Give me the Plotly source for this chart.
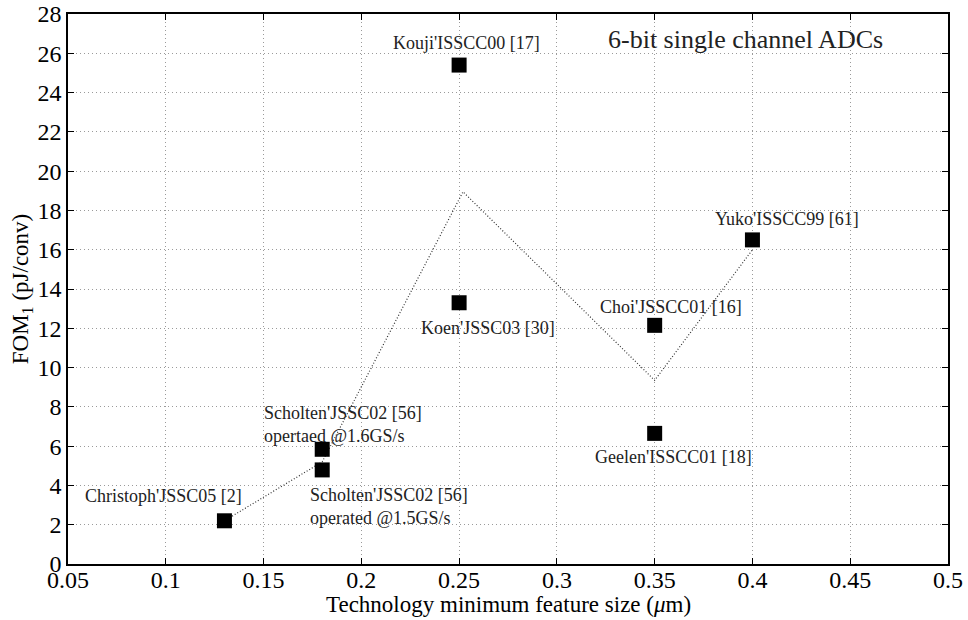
import plotly.graph_objects as go

# Data points (technology um, FOM pJ/conv)
labels = ["Christoph'JSSC05 [2]",
          "Scholten'JSSC02 [56]<br>opertaed @1.6GS/s",
          "Scholten'JSSC02 [56]<br>operated @1.5GS/s",
          "Kouji'ISSCC00 [17]",
          "Koen'JSSC03 [30]",
          "Choi'JSSCC01 [16]",
          "Geelen'ISSCC01 [18]",
          "Yuko'ISSCC99 [61]"]
tech = [0.13, 0.18, 0.18, 0.25, 0.25, 0.35, 0.35, 0.40]
fom = [2.2, 5.84, 4.79, 25.4, 13.3, 12.15, 6.65, 16.5]

# Dotted trend line
trend_x = [0.13, 0.18, 0.252, 0.35, 0.40]
trend_y = [2.2, 5.2, 18.95, 9.35, 16.0]

x_ticks = [0.05, 0.1, 0.15, 0.2, 0.25, 0.3, 0.35, 0.4, 0.45, 0.5]
x_ticktext = ["0.05", "0.1", "0.15", "0.2", "0.25", "0.3", "0.35", "0.4", "0.45", "0.5"]
y_ticks = list(range(0, 29, 2))

FONT = "Liberation Serif, DejaVu Serif, serif"

fig = go.Figure()
fig.add_trace(go.Scatter(x=trend_x, y=trend_y, mode="lines",
                         line=dict(color="#333333", width=1.2, dash="1px,2px"),
                         hoverinfo="skip", showlegend=False))
fig.add_trace(go.Scatter(x=tech, y=fom, mode="markers",
                         marker=dict(symbol="square", size=15, color="black",
                                     line=dict(width=0)),
                         showlegend=False))

# label offsets (pixels): xshift, yshift, xanchor
offsets = [(-61, 25, "center"),
           (-60, 25, "left"),
           (-14, -37, "left"),
           (7, 22, "center"),
           (29, -25, "center"),
           (16, 18, "center"),
           (19, -24, "center"),
           (35, 21, "center")]
for lab, xv, yv, (dx, dy, xa) in zip(labels, tech, fom, offsets):
    fig.add_annotation(x=xv, y=yv, xref="x", yref="y", text=lab,
                       showarrow=False, xshift=dx, yshift=dy,
                       xanchor=xa, yanchor="middle", align="left",
                       font=dict(family=FONT, size=18, color="#222222"))

fig.add_annotation(x=0.770, y=0.953, xref="paper", yref="paper",
                   text="6-bit single channel ADCs", showarrow=False,
                   xanchor="center", yanchor="middle",
                   font=dict(family=FONT, size=26, color="#222222"))

# x-axis title placed as text below the tick labels
fig.add_annotation(x=0.5, y=-0.1, xref="paper", yref="paper",
                   text="Technology minimum feature size (<i>μ</i>m)", showarrow=False,
                   xanchor="center", yanchor="bottom",
                   font=dict(family=FONT, size=23, color="black"))

axis_common = dict(showline=True, linecolor="black", linewidth=1.5, mirror="ticks",
                   ticks="inside", ticklen=6, tickcolor="black",
                   showgrid=True, gridcolor="#9a9a9a", griddash="1px,3px", gridwidth=1,
                   zeroline=False, automargin=False,
                   tickfont=dict(family=FONT, size=24, color="black"))

fig.update_xaxes(range=[0.05, 0.5], tickvals=x_ticks, ticktext=x_ticktext,
                 ticklabelstandoff=-7, **axis_common)
fig.update_yaxes(range=[0, 28], tickvals=y_ticks,
                 title=dict(text="FOM<sub>1</sub> (pJ/conv)",
                            font=dict(family=FONT, size=23, color="black"), standoff=2),
                 **axis_common)

fig.update_layout(width=968, height=620,
                  font=dict(family=FONT),
                  margin=dict(l=68, r=20, t=14, b=56),
                  plot_bgcolor="white", paper_bgcolor="white",
                  showlegend=False)

fig.write_html("out.html")
